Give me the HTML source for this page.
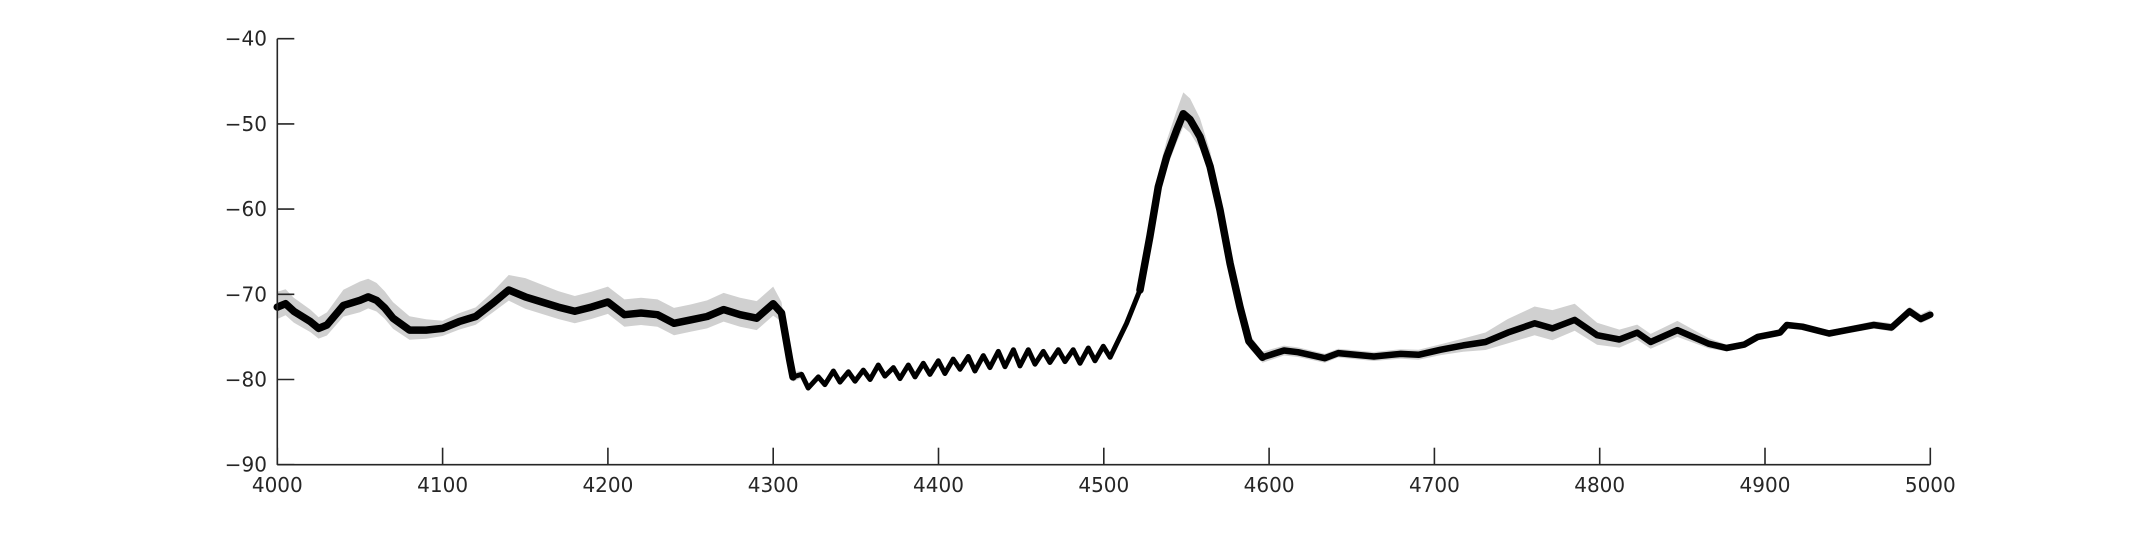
<!DOCTYPE html>
<html><head><meta charset="utf-8"><style>
html,body{margin:0;padding:0;background:#fff;}
svg{display:block;}
text{font-family:"DejaVu Sans","Liberation Sans",sans-serif;font-size:20px;fill:#262626;}
</style></head><body>
<svg id="chart" width="2133" height="533" xmlns="http://www.w3.org/2000/svg">
<rect width="2133" height="533" fill="#fff"/>
<g id="band"></g>
<g id="line"></g>
<g id="axes"></g>
</svg>
<script>
const xVals = [4000,4005,4010,4020,4025,4030,4040,4050,4055,4060,4065,4070,4080,4090,4100,4110,4120,4130,4140,4150,4160,4170,4180,4190,4200,4210,4220,4230,4240,4250,4260,4270,4280,4290,4300,4305,4310,4312,
4317.2,4321.2,4327.3,4331.3,4336.4,4340.4,4345.5,4349.5,4354.5,4358.6,4363.6,4367.6,4372.7,4376.7,4381.7,4385.8,4390.8,4394.8,4399.9,4403.9,4408.9,4413,4418,4422,4427.1,4431.1,4436.2,4440.2,4445.3,4449.3,4454.3,4458.4,4463.4,4467.4,4472.5,4476.5,4481.5,4485.6,4490.6,4494.7,4499.7,4503.8,
4513.8,4521.9,4527.9,4533,4538,4544.1,4548.1,4552.2,4558.2,4564.3,4570.3,4576.4,4582.4,4587.8,
4596,4609,4617.5,4633.7,4641.8,4663.4,4679.6,4690.4,4703.9,4717.4,4730.9,4744.4,4760.6,4771.4,4784.9,4798.4,4811.9,4822.7,4830.8,4847,4865.9,4876.7,4887.5,4895.6,4909.1,4913.2,4922.6,4938.8,4949.6,4965.8,4976.6,4987.4,4994.2,5000];
const yVals = [-71.5,-71.1,-72.0,-73.2,-74.0,-73.6,-71.3,-70.7,-70.3,-70.7,-71.6,-72.8,-74.2,-74.2,-74.0,-73.2,-72.6,-71.1,-69.5,-70.3,-70.9,-71.5,-72.0,-71.5,-70.9,-72.4,-72.2,-72.4,-73.4,-73.0,-72.6,-71.8,-72.4,-72.8,-71.1,-72.2,-77.7,-79.7,
-79.4,-81.0,-79.7,-80.6,-79.0,-80.3,-79.1,-80.2,-78.9,-80.0,-78.3,-79.6,-78.6,-79.9,-78.3,-79.7,-78.1,-79.4,-77.8,-79.3,-77.6,-78.8,-77.3,-79.0,-77.2,-78.6,-76.7,-78.5,-76.5,-78.4,-76.5,-78.2,-76.7,-78.0,-76.5,-77.9,-76.5,-78.1,-76.3,-77.8,-76.1,-77.4,
-73.4,-69.5,-63.2,-57.4,-53.9,-50.7,-48.8,-49.5,-51.5,-55.0,-60.1,-66.4,-71.5,-75.5,
-77.4,-76.6,-76.8,-77.5,-76.9,-77.3,-77.0,-77.1,-76.5,-76.0,-75.6,-74.5,-73.4,-74.0,-73.0,-74.8,-75.3,-74.5,-75.6,-74.2,-75.8,-76.3,-75.9,-75.0,-74.5,-73.6,-73.8,-74.6,-74.2,-73.6,-73.9,-72.0,-72.9,-72.4];
const bandX = [4000,4025,4050,4075,4100,4125,4150,4175,4200,4225,4250,4275,4300,4310,4325,4350,4400,4450,4500,4515,4530,4550,4570,4590,4600,4650,4700,4725,4750,4775,4800,4825,4850,4875,4900,4950,5000];
const bandUp = [1.8,1.3,2.2,1.8,0.9,1.1,2.2,1.8,1.8,1.8,1.8,2.0,2.0,0.6,0.2,0.2,0.2,0.2,0.2,0.6,1.5,2.6,1.5,0.8,0.6,0.5,0.6,0.9,1.8,2.2,1.4,0.9,1.1,0.4,0.4,0.4,0.6];
const bandDown = [1.4,1.2,1.4,1.2,0.9,1.0,1.4,1.4,1.4,1.4,1.4,1.4,1.4,0.6,0.2,0.2,0.2,0.2,0.2,0.5,1.2,1.6,1.2,0.7,0.6,0.5,0.6,0.8,1.4,1.4,1.1,0.8,0.8,0.4,0.4,0.4,0.5];
const xTicks = [4000,4100,4200,4300,4400,4500,4600,4700,4800,4900,5000];
const yTicks = [-40,-50,-60,-70,-80,-90];
const yTickLabels = ["\u221240","\u221250","\u221260","\u221270","\u221280","\u221290"];

const NS="http://www.w3.org/2000/svg";
const X0=277.3,X1=1930.3,Y0=38.7,Y1=464.7;
function sx(v){return X0+(v-4000)/(5000-4000)*(X1-X0);}
function sy(v){return Y0+(-40-v)/(-40-(-90))*(Y1-Y0);}
function interp(xs,ys,x){for(let i=0;i<xs.length-1;i++){if(x>=xs[i]&&x<=xs[i+1]){const t=(x-xs[i])/(xs[i+1]-xs[i]);return ys[i]+t*(ys[i+1]-ys[i]);}}return ys[ys.length-1];}

// band
const upPts=[],dnPts=[];
for(let i=0;i<xVals.length;i++){
  const u=interp(bandX,bandUp,xVals[i]),dd=interp(bandX,bandDown,xVals[i]);
  upPts.push(sx(xVals[i]).toFixed(1)+","+sy(yVals[i]+u).toFixed(1));
  dnPts.unshift(sx(xVals[i]).toFixed(1)+","+sy(yVals[i]-dd).toFixed(1));
}
const band=document.createElementNS(NS,"polygon");


band.setAttribute("points",upPts.concat(dnPts).join(" "));
band.setAttribute("fill","#d0d0d0");
document.getElementById("band").appendChild(band);

// line: thicker in noisy regions
function segPath(lo,hi,w,name){
  let d="",first=true;
  for(let i=0;i<xVals.length;i++){
    if(xVals[i]<lo||xVals[i]>hi)continue;
    d+=(first?"M":"L")+sx(xVals[i]).toFixed(1)+","+sy(yVals[i]).toFixed(1);first=false;
  }
  const p=document.createElementNS(NS,"path");
  
  
  p.setAttribute("d",d);p.setAttribute("fill","none");p.setAttribute("stroke","#000");
  p.setAttribute("stroke-width",w);p.setAttribute("stroke-linejoin","round");p.setAttribute("stroke-linecap","round");
  document.getElementById("line").appendChild(p);
}
segPath(4000,4312,7.5,"mean-line-left");
segPath(4310,4530,5,"mean-line-oscillation");
segPath(4520,4600,7.5,"mean-line-peak");
segPath(4590,5000,6.5,"mean-line-right");

// axes
const ax=document.getElementById("axes");
function ln(x1,y1,x2,y2,name){const l=document.createElementNS(NS,"line");


l.setAttribute("x1",x1);l.setAttribute("y1",y1);l.setAttribute("x2",x2);l.setAttribute("y2",y2);l.setAttribute("stroke","#262626");l.setAttribute("stroke-width","1.6");ax.appendChild(l);}
ln(X0,Y0,X0,Y1,"y-axis-line");
ln(X0,Y1,X1,Y1,"x-axis-line");
xTicks.forEach(v=>{
  ln(sx(v),Y1,sx(v),Y1-17,"x-tick");
  const t=document.createElementNS(NS,"text");
  
  
  t.setAttribute("x",sx(v));t.setAttribute("y",492);t.setAttribute("text-anchor","middle");t.textContent=v;ax.appendChild(t);
});
yTicks.forEach((v,i)=>{
  ln(X0,sy(v),X0+17,sy(v),"y-tick");
  const t=document.createElementNS(NS,"text");
  
  
  t.setAttribute("x",267);t.setAttribute("y",sy(v)+7);t.setAttribute("text-anchor","end");t.textContent=yTickLabels[i];ax.appendChild(t);
});
</script>
</body></html>
